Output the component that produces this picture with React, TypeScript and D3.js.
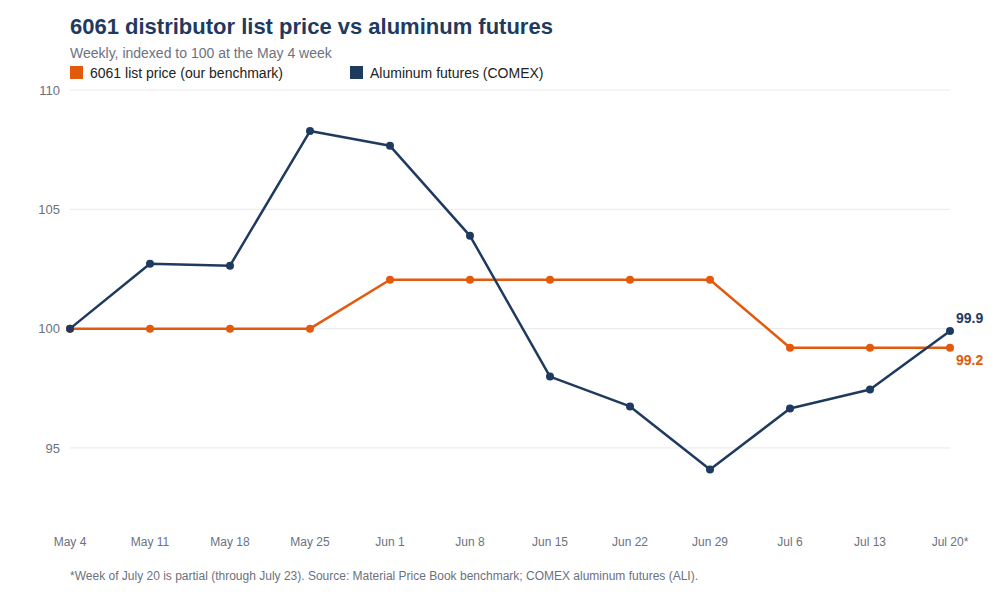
import React from "react";
import * as d3 from "d3";

const weeks = ["May 4", "May 11", "May 18", "May 25", "Jun 1", "Jun 8", "Jun 15", "Jun 22", "Jun 29", "Jul 6", "Jul 13", "Jul 20*"];
const listPrice = [100, 100, 100, 100, 102.05, 102.05, 102.05, 102.05, 102.05, 99.2, 99.2, 99.2];
const futures = [100, 102.72, 102.64, 108.28, 107.66, 103.89, 97.99, 96.74, 94.1, 96.65, 97.45, 99.9];
const yTicks = [95, 100, 105, 110];

const NAVY = "#1f3a5f";
const ORANGE = "#e35a0c";
const GREY = "#6b7280";
const FONT = "'Liberation Sans', Arial, Helvetica, sans-serif";

export default function App() {
  const w = 1000,
    h = 600;
  const left = 70,
    right = 950,
    top = 90,
    bottom = 510;

  const x = d3.scalePoint<string>().domain(weeks).range([left, right]);
  const y = d3.scaleLinear().domain([92.4, 110]).range([bottom, top]);

  const line = d3
    .line<number>()
    .x((_, i) => x(weeks[i]) as number)
    .y((d) => y(d));

  const series = [
    { name: "list", values: listPrice, color: ORANGE },
    { name: "futures", values: futures, color: NAVY },
  ];

  const lastX = x(weeks[weeks.length - 1]) as number;

  return (
    <svg width={w} height={h} style={{ position: "absolute", left: 0, top: 0, fontFamily: FONT }}>
      <rect width={w} height={h} fill="#fff" />
      <text x={70} y={34} fontSize={22} fontWeight="bold" fill={NAVY}>
        6061 distributor list price vs aluminum futures
      </text>
      <text x={70} y={58} fontSize={14} fill={GREY}>
        Weekly, indexed to 100 at the May 4 week
      </text>

      <rect x={70} y={66} width={13} height={13} fill={ORANGE} />
      <text x={90} y={78} fontSize={14} fill="#222">
        6061 list price (our benchmark)
      </text>
      <rect x={350} y={66} width={13} height={13} fill={NAVY} />
      <text x={370} y={78} fontSize={14} fill="#222">
        Aluminum futures (COMEX)
      </text>

      {yTicks.map((t) => (
        <g key={t}>
          <line x1={left} x2={right} y1={y(t)} y2={y(t)} stroke="#e8e8ec" strokeWidth={1} />
          <text x={60} y={y(t)} dy="0.35em" textAnchor="end" fontSize={13} fill={GREY}>
            {t}
          </text>
        </g>
      ))}

      {weeks.map((wk) => (
        <text key={wk} x={x(wk)} y={546} textAnchor="middle" fontSize={12} fill={GREY}>
          {wk}
        </text>
      ))}

      {series.map((s) => (
        <g key={s.name}>
          <path d={line(s.values) || ""} fill="none" stroke={s.color} strokeWidth={2.5} strokeLinejoin="round" />
          {s.values.map((v, i) => (
            <circle key={i} cx={x(weeks[i])} cy={y(v)} r={4} fill={s.color} />
          ))}
        </g>
      ))}

      <text x={lastX + 6} y={y(futures[futures.length - 1]) - 8} fontSize={14} fontWeight="bold" fill={NAVY}>
        {futures[futures.length - 1].toFixed(1)}
      </text>
      <text x={lastX + 6} y={y(listPrice[listPrice.length - 1]) + 17} fontSize={14} fontWeight="bold" fill={ORANGE}>
        {listPrice[listPrice.length - 1].toFixed(1)}
      </text>

      <text x={70} y={580} fontSize={12} fill={GREY}>
        *Week of July 20 is partial (through July 23). Source: Material Price Book benchmark; COMEX aluminum futures (ALI).
      </text>
    </svg>
  );
}
